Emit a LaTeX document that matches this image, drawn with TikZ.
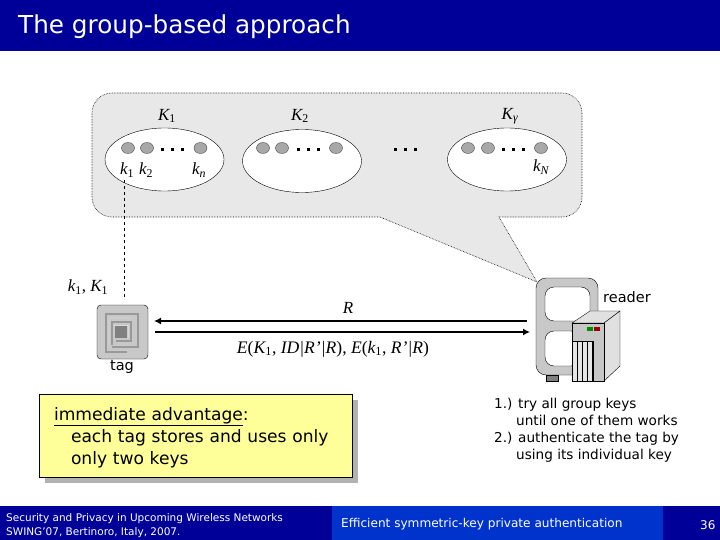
\documentclass[tikz,border=0pt]{standalone}
\usepackage{fontspec}
\setmainfont{DejaVu Sans}
\newfontfamily\symfont{Liberation Serif}
\usepackage{xcolor}
\usetikzlibrary{arrows.meta, shapes.geometric, shadows}
\definecolor{navy}{HTML}{000099}
\definecolor{midblue}{HTML}{0033CC}
\definecolor{bubblegray}{HTML}{E8E8E8}
\definecolor{keygray}{HTML}{A8A8A8}
\definecolor{notefill}{HTML}{FFFF99}
\definecolor{shadowgray}{HTML}{B2B2B2}
\definecolor{devicegray}{HTML}{C8C8C8}
\newcommand{\sym}[2]{{\symfont\itshape #1}\textsubscript{\symfont #2}}

\begin{document}
\begin{tikzpicture}[
  x=1pt, y=-1pt,
  band/.style={fill=navy, draw=none},
  group/.style={ellipse, draw, fill=white, minimum width=119pt, minimum height=63pt, inner sep=0pt},
  keydot/.style={ellipse, draw=black!70, fill=keygray, minimum width=13pt, minimum height=11pt, inner sep=0pt},
  more/.style={rectangle, fill=black, minimum size=3pt, inner sep=0pt},
  sym/.style={font=\fontsize{17}{18}\selectfont, inner sep=0pt},
  plain/.style={font=\fontsize{14.5}{17}\selectfont, inner sep=0pt, align=left},
  edge/.style={-{Latex[length=7pt,width=7pt]}, line width=1.3pt},
  foot/.style={text=white, inner sep=0pt, anchor=west, align=left}
]
\useasboundingbox (0,0) rectangle (720,540);

% header and footer
\fill[band] (0,0) rectangle (720,51);
\fill[band] (0,506) rectangle (720,540);
\fill[midblue] (332,506) rectangle (663,540);
\node[foot, font=\fontsize{24.7}{25}\selectfont] (title) at (18,27) {The group-based approach};
\node[foot, font=\fontsize{10.5}{13.5}\selectfont] (venue) at (6,525.5) {Security and Privacy in Upcoming Wireless Networks\\SWING'07, Bertinoro, Italy, 2007.};
\node[foot, font=\fontsize{12.1}{14}\selectfont] (topic) at (341,524.5) {Efficient symmetric-key private authentication};
\node[foot, font=\fontsize{12}{14}\selectfont] (page) at (700,525) {36};

% speech bubble
\draw[fill=bubblegray, densely dotted, line width=0.6pt, rounded corners=20pt] (300,93) -- (582,93) -- (582,217)
  [sharp corners] -- (499,217) -- (537,282) -- (380,217)
  [rounded corners=20pt] -- (92,217) -- (92,93) -- cycle;

% key groups
\node[group] (g1) at (164.5,159.5) {};
\node[group] (g2) at (302,161) {};
\node[group] (g3) at (507,159.5) {};
\foreach \name/\x in {a/128, b/147, c/200.5} \node[keydot] (g1\name) at (\x,148) {};
\foreach \name/\x in {a/263, b/282, c/336} \node[keydot] (g2\name) at (\x,148) {};
\foreach \name/\x in {a/468, b/488, c/541} \node[keydot] (g3\name) at (\x,148) {};
\foreach \x in {162.7,172.7,182.7, 298,308,318, 395,405,415, 503,513,523}
  \node[more] at (\x,149.5) {};

\node[sym] (K1) at (167,116) {\sym{K}{1}};
\node[sym] (K2) at (300,116) {\sym{K}{2}};
\node[sym] (Kr) at (510,116) {\sym{K}{\itshape γ}};
\node[sym] (k1) at (127,170) {\sym{k}{1}};
\node[sym] (k2) at (146,170) {\sym{k}{2}};
\node[sym] (kn) at (199,170) {\sym{k}{\itshape n}};
\node[sym] (kN) at (541,167) {\sym{k}{\itshape N}};

% tag
\node[draw, fill=devicegray, rounded corners=4pt, minimum width=51pt, minimum height=54pt, inner sep=0pt] (tag) at (122.5,332) {};
\draw[black!40, line width=2.2pt] (127,352) -- (106,352) -- (106,314) -- (138,314) -- (138,347) -- (112,347);
\draw[black!20, line width=1.6pt] (109,345) -- (109,318) -- (133,318);
\draw[black!40, line width=2.2pt] (112,345) -- (112,322) -- (131,322) -- (131,341) -- (116,341);
\fill[black!50] (115,326) rectangle (127,338);
\draw[white!85!black, line width=1pt] (114,325) -- (128,325) -- (128,338);
\node[plain] (taglabel) at (122,367) {tag};
\node[sym] (tagkeys) at (88,287) {\sym{k}{1}{\symfont, }\sym{K}{1}};

% reader
\node[draw, fill=devicegray, rounded corners=10pt, minimum width=62pt, minimum height=97pt, inner sep=0pt] (reader) at (567,326.5) {};
\draw[fill=black!50] (546,375) rectangle (558,381);
\draw[fill=white, rounded corners=9pt] (545,287) rectangle (590,321);
\draw[fill=white, rounded corners=9pt] (545,331) rectangle (580,366);
\draw[fill=black!12] (572,323) -- (604,323) -- (620,311) -- (590,311) -- cycle;
\draw[fill=black!12] (604,323) -- (620,311) -- (620,366) -- (604,381) -- cycle;
\draw[fill=black!22] (572,323) rectangle (604,381);
\fill[white!90!black] (572,341) rectangle (593,381);
\foreach \x in {572,577,582,587,592,593} \draw (\x,341) -- (\x,381);
\draw (572,341) -- (593,341);
\fill[green!55!black] (587,327) rectangle (593,331);
\fill[red!60!black] (594,327) rectangle (600,331);
\node[plain] (readerlabel) at (627,297) {reader};

% connectors
\coordinate (dashtop) at (124.5,180);
\coordinate (dashend) at (124.5,298);
\draw[dashed] (dashtop) -- (dashend);
\coordinate (tagin) at (154,321);
\coordinate (tagout) at (155,332);
\coordinate (readerout) at (527,321);
\coordinate (readerin) at (530,332);
\draw[edge] (readerout) -- (tagin);
\draw[edge] (tagout) -- (readerin);
\node[sym] (R) at (348,308) {{\symfont\itshape R}};
\node[sym, font=\fontsize{17.6}{18}\selectfont] (msg) at (333,349) {{\symfont\itshape E}{\symfont(}\sym{K}{1}{\symfont, \itshape ID|R’|R}{\symfont), \itshape E}{\symfont(}\sym{k}{1}{\symfont, \itshape R’|R}{\symfont)}};

% reader steps
\node[plain, anchor=north west, font=\fontsize{13.6}{17}\selectfont] (steps) at (494,398) {1.) try all group keys\\
\hspace*{22pt}until one of them works\\
2.) authenticate the tag by\\
\hspace*{22pt}using its individual key};

% advantage note
\node[draw, fill=notefill, minimum width=313pt, minimum height=83pt, inner sep=0pt,
  drop shadow={shadow xshift=6pt, shadow yshift=-6pt, opacity=1, fill=shadowgray},
  text width=283pt, align=left, font=\fontsize{17.1}{22}\selectfont] (note) at (195.5,435.5)
  {\rule{0pt}{18pt}\underline{immediate advantage}:\\
  \hspace*{17pt}each tag stores and uses only\\
  \hspace*{17pt}only two keys};
\end{tikzpicture}
\end{document}
